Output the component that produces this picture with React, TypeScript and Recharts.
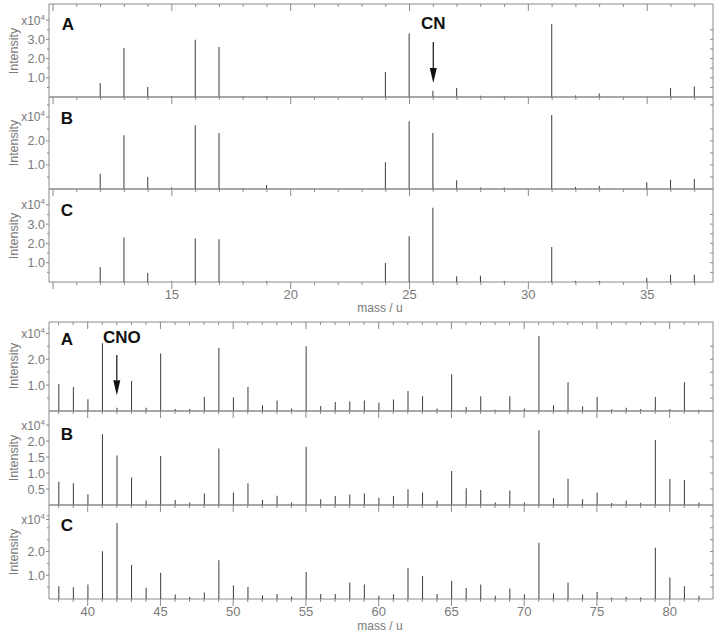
import React from "react";
import { ComposedChart, Bar, XAxis, YAxis, ReferenceLine, ReferenceDot, ReferenceArea } from "recharts";

const AXIS = "#8a8a8a";
const TXT = "#7a7a7a";
const LINE = "#3c3c3c";
const FONT = "'Liberation Sans', Arial, sans-serif";
const RIGHT_EDGE = 713;

// upper spectrum, mass 12..37 (x10^4 counts)
const massTop = [12, 13, 14, 15, 16, 17, 18, 19, 20, 21, 22, 23, 24, 25, 26, 27, 28, 29, 30, 31, 32, 33, 34, 35, 36, 37];
const topA = [0.73, 2.55, 0.52, 0.05, 2.98, 2.6, 0.04, 0.05, 0, 0, 0, 0, 1.3, 3.31, 0.32, 0.47, 0.06, 0.05, 0, 3.8, 0.08, 0.18, 0, 0.03, 0.47, 0.55];
const topB = [0.64, 2.24, 0.5, 0.06, 2.65, 2.33, 0.03, 0.17, 0, 0, 0, 0, 1.11, 2.82, 2.33, 0.36, 0.06, 0.06, 0, 3.08, 0.08, 0.13, 0, 0.28, 0.39, 0.42];
const topC = [0.78, 2.3, 0.47, 0.03, 2.25, 2.22, 0.02, 0.04, 0, 0, 0, 0, 0.99, 2.37, 3.85, 0.3, 0.33, 0.05, 0, 1.82, 0.05, 0.05, 0, 0.22, 0.38, 0.38];

// lower spectrum, mass 38..82
const massBot = [38, 39, 40, 41, 42, 43, 44, 45, 46, 47, 48, 49, 50, 51, 52, 53, 54, 55, 56, 57, 58, 59, 60, 61, 62, 63, 64, 65, 66, 67, 68, 69, 70, 71, 72, 73, 74, 75, 76, 77, 78, 79, 80, 81, 82];
const botA = [1.04, 0.93, 0.45, 2.62, 0.13, 1.16, 0.13, 2.22, 0.08, 0.08, 0.54, 2.44, 0.52, 0.93, 0.22, 0.41, 0.1, 2.5, 0.19, 0.35, 0.37, 0.41, 0.32, 0.44, 0.77, 0.57, 0.1, 1.42, 0.15, 0.57, 0.05, 0.57, 0.1, 2.9, 0.22, 1.11, 0.18, 0.54, 0.07, 0.13, 0.08, 0.54, 0.08, 1.11, 0.05];
const botB = [0.73, 0.68, 0.34, 2.21, 1.55, 0.86, 0.14, 1.53, 0.16, 0.08, 0.36, 1.77, 0.39, 0.68, 0.16, 0.29, 0.08, 1.82, 0.18, 0.28, 0.33, 0.36, 0.23, 0.28, 0.49, 0.39, 0.13, 1.06, 0.52, 0.47, 0.08, 0.45, 0.08, 2.34, 0.21, 0.82, 0.18, 0.39, 0.06, 0.14, 0.07, 2.03, 0.81, 0.78, 0.08];
const botC = [0.54, 0.49, 0.61, 2.01, 3.2, 1.43, 0.47, 1.11, 0.19, 0.08, 0.27, 1.63, 0.57, 0.51, 0.16, 0.21, 0.11, 1.14, 0.21, 0.21, 0.69, 0.61, 0.14, 0.2, 1.31, 0.97, 0.21, 0.77, 0.46, 0.61, 0.14, 0.44, 0.2, 2.37, 0.23, 0.69, 0.19, 0.29, 0.05, 0.1, 0.06, 2.16, 0.91, 0.54, 0.14];

const topXTicks = [10, 11, 12, 13, 14, 15, 16, 17, 18, 19, 20, 21, 22, 23, 24, 25, 26, 27, 28, 29, 30, 31, 32, 33, 34, 35, 36, 37];
const botXTicks = [38, 39, 40, 41, 42, 43, 44, 45, 46, 47, 48, 49, 50, 51, 52, 53, 54, 55, 56, 57, 58, 59, 60, 61, 62, 63, 64, 65, 66, 67, 68, 69, 70, 71, 72, 73, 74, 75, 76, 77, 78, 79, 80, 81, 82];
const xMajor = [10, 15, 20, 25, 30, 35, 40, 45, 50, 55, 60, 65, 70, 75, 80];
const xLabelled = [15, 20, 25, 30, 35, 40, 45, 50, 55, 60, 65, 70, 75, 80];

const XTick = (props: any) => {
  const { x, y, payload, showLabels } = props;
  const major = xMajor.includes(payload.value);
  const len = major ? 7 : 3;
  return (
    <g>
      <line x1={x} x2={x} y1={y} y2={y + len} stroke={AXIS} />
      {showLabels && xLabelled.includes(payload.value) && (
        <text x={x} y={y + 17} textAnchor="middle" fontSize={13} fill={TXT} fontFamily={FONT}>
          {payload.value}
        </text>
      )}
    </g>
  );
};

const YTick = (props: any) => {
  const { x, y, payload, labels, expo } = props;
  const v = payload.value;
  const lab = labels.includes(v) ? v.toFixed(1) : null;
  const isExpo = v === expo;
  return (
    <g>
      <line x1={x - (lab || isExpo ? 3 : 2)} x2={x} y1={y} y2={y} stroke={AXIS} />
      {!isExpo && <line x1={RIGHT_EDGE - 3} x2={RIGHT_EDGE} y1={y} y2={y} stroke={AXIS} />}
      {lab && (
        <text x={x - 4} y={y} dy={4.5} textAnchor="end" fontSize={12.5} fill={TXT} fontFamily={FONT}>
          {lab}
        </text>
      )}
      {isExpo && (
        <text x={x - 4} y={y} dy={4.5} textAnchor="end" fontSize={12} fill={TXT} fontFamily={FONT}>
          x10<tspan dy={-5} fontSize={8}>4</tspan>
        </text>
      )}
    </g>
  );
};

const Arrow = (props: any) => {
  const { cx, cy } = props;
  return <polygon points={`${cx - 3.5},${cy - 15} ${cx + 3.5},${cy - 15} ${cx},${cy}`} fill="#111" />;
};

type Note = { text: string; x: number; textX: number; textY: number; lineTop: number; lineBottom: number; tip: number };

type PanelProps = {
  top: number;
  bottom: number;
  mass: number[];
  values: number[];
  xDomain: [number, number];
  xTicks: number[];
  yMax: number;
  yTicks: number[];
  yLabels: number[];
  expo: number;
  topAxis?: boolean;
  showXLabels?: boolean;
  note?: Note;
};

function Panel(p: PanelProps) {
  const mt = 6;
  const mb = 40;
  const h = p.bottom - p.top;
  const data = p.mass.map((m, i) => ({ m, v: p.values[i] }));
  return (
    <div style={{ position: "absolute", left: 0, top: p.top - mt }}>
      <ComposedChart
        width={720}
        height={h + mt + mb}
        data={data}
        margin={{ top: p.topAxis ? mt - 1 : mt, right: 720 - RIGHT_EDGE, bottom: mb - 1, left: 0 }}
      >
        <XAxis
          xAxisId="b"
          type="number"
          dataKey="m"
          domain={p.xDomain}
          ticks={p.xTicks}
          interval={0}
          allowDataOverflow
          height={1}
          tickSize={0}
          tickMargin={0}
          axisLine={false}
          tick={(tp: any) => <XTick {...tp} showLabels={p.showXLabels} />}
        />
        {p.topAxis && (
          <XAxis
            xAxisId="t"
            orientation="top"
            type="number"
            dataKey="m"
            domain={p.xDomain}
            ticks={p.xTicks}
            interval={0}
            allowDataOverflow
            height={1}
            tickSize={0}
            tickMargin={0}
            axisLine={false}
            tick={(tp: any) => <XTick {...tp} showLabels={false} />}
          />
        )}
        <YAxis
          yAxisId="l"
          width={49}
          type="number"
          domain={[0, p.yMax]}
          ticks={p.yTicks}
          interval={0}
          allowDataOverflow
          tickSize={0}
          tickMargin={0}
          axisLine={false}
          tick={(tp: any) => <YTick {...tp} labels={p.yLabels} expo={p.expo} />}
        />
        <Bar xAxisId="b" yAxisId="l" dataKey="v" fill={LINE} barSize={1} isAnimationActive={false} />
        <ReferenceArea
          xAxisId="b"
          yAxisId="l"
          x1={p.xDomain[0]}
          x2={p.xDomain[1]}
          y1={0}
          y2={p.yMax}
          fill="none"
          fillOpacity={0}
          stroke={AXIS}
          strokeWidth={1}
          ifOverflow="visible"
        />
        {p.note && (
          <ReferenceLine
            xAxisId="b"
            yAxisId="l"
            segment={[
              { x: p.note.x, y: p.note.lineTop },
              { x: p.note.x, y: p.note.lineBottom },
            ]}
            stroke="#111"
            strokeWidth={1.2}
          />
        )}
        {p.note && <ReferenceDot xAxisId="b" yAxisId="l" x={p.note.x} y={p.note.tip} r={1} shape={Arrow} />}
        {p.note && (
          <ReferenceDot
            xAxisId="b"
            yAxisId="l"
            x={p.note.textX}
            y={p.note.textY}
            r={1}
            fill="none"
            stroke="none"
            label={{ value: p.note.text, position: "center", fontSize: 17, fontWeight: "bold", fill: "#111", fontFamily: FONT }}
          />
        )}
      </ComposedChart>
    </div>
  );
}

const Letter = ({ ch, x, y }: { ch: string; x: number; y: number }) => (
  <div style={{ position: "absolute", left: x - 10, top: y - 10, width: 20, lineHeight: "20px", textAlign: "center", fontFamily: FONT, fontWeight: "bold", fontSize: 17, color: "#111" }}>
    {ch}
  </div>
);

const Intensity = ({ y }: { y: number }) => (
  <div style={{ position: "absolute", left: 14 - 40, top: y - 8, width: 80, lineHeight: "16px", textAlign: "center", fontFamily: FONT, fontSize: 12.5, color: TXT, transform: "rotate(-90deg)" }}>
    Intensity
  </div>
);

const MassLabel = ({ top }: { top: number }) => (
  <div style={{ position: "absolute", left: 330, top, width: 100, lineHeight: "12px", textAlign: "center", fontFamily: FONT, fontSize: 12, color: TXT }}>
    mass / u
  </div>
);

export default function App() {
  const topDom: [number, number] = [9.83, 37.77];
  const botDom: [number, number] = [37.34, 82.98];
  return (
    <div style={{ position: "absolute", left: 0, top: 0, width: 720, height: 632, background: "#fff", overflow: "hidden" }}>
      <Panel top={4} bottom={97} mass={massTop} values={topA} xDomain={topDom} xTicks={topXTicks} yMax={4.84}
        yTicks={[0.5, 1, 1.5, 2, 2.5, 3, 3.5, 4]} yLabels={[1, 2, 3]} expo={4} topAxis
        note={{ text: "CN", x: 26, textX: 26, textY: 3.85, lineTop: 2.86, lineBottom: 1.5, tip: 0.73 }} />
      <Panel top={97} bottom={189} mass={massTop} values={topB} xDomain={topDom} xTicks={topXTicks} yMax={3.83}
        yTicks={[0.5, 1, 1.5, 2, 2.5, 3, 3.5]} yLabels={[1, 2]} expo={3} />
      <Panel top={189} bottom={282} mass={massTop} values={topC} xDomain={topDom} xTicks={topXTicks} yMax={4.82}
        yTicks={[0.5, 1, 1.5, 2, 2.5, 3, 3.5, 4]} yLabels={[1, 2, 3]} expo={4} showXLabels />

      <Panel top={322} bottom={411} mass={massBot} values={botA} xDomain={botDom} xTicks={botXTicks} yMax={3.44}
        yTicks={[0.5, 1, 1.5, 2, 2.5, 3]} yLabels={[1, 2]} expo={3} topAxis
        note={{ text: "CNO", x: 42, textX: 42.35, textY: 2.86, lineTop: 2.16, lineBottom: 1.2, tip: 0.61 }} />
      <Panel top={411} bottom={505} mass={massBot} values={botB} xDomain={botDom} xTicks={botXTicks} yMax={2.94}
        yTicks={[0.5, 1, 1.5, 2, 2.5]} yLabels={[0.5, 1, 1.5, 2]} expo={2.5} />
      <Panel top={505} bottom={599} mass={massBot} values={botC} xDomain={botDom} xTicks={botXTicks} yMax={3.96}
        yTicks={[0.5, 1, 1.5, 2, 2.5, 3, 3.35, 3.5]} yLabels={[1, 2]} expo={3.35} showXLabels />

      <Letter ch="A" x={68} y={25} />
      <Letter ch="B" x={67} y={119} />
      <Letter ch="C" x={67} y={211} />
      <Letter ch="A" x={67} y={340} />
      <Letter ch="B" x={67} y={435} />
      <Letter ch="C" x={67} y={526} />

      <Intensity y={51} />
      <Intensity y={143} />
      <Intensity y={236} />
      <Intensity y={366} />
      <Intensity y={458} />
      <Intensity y={552} />

      <MassLabel top={302} />
      <MassLabel top={620} />
    </div>
  );
}
